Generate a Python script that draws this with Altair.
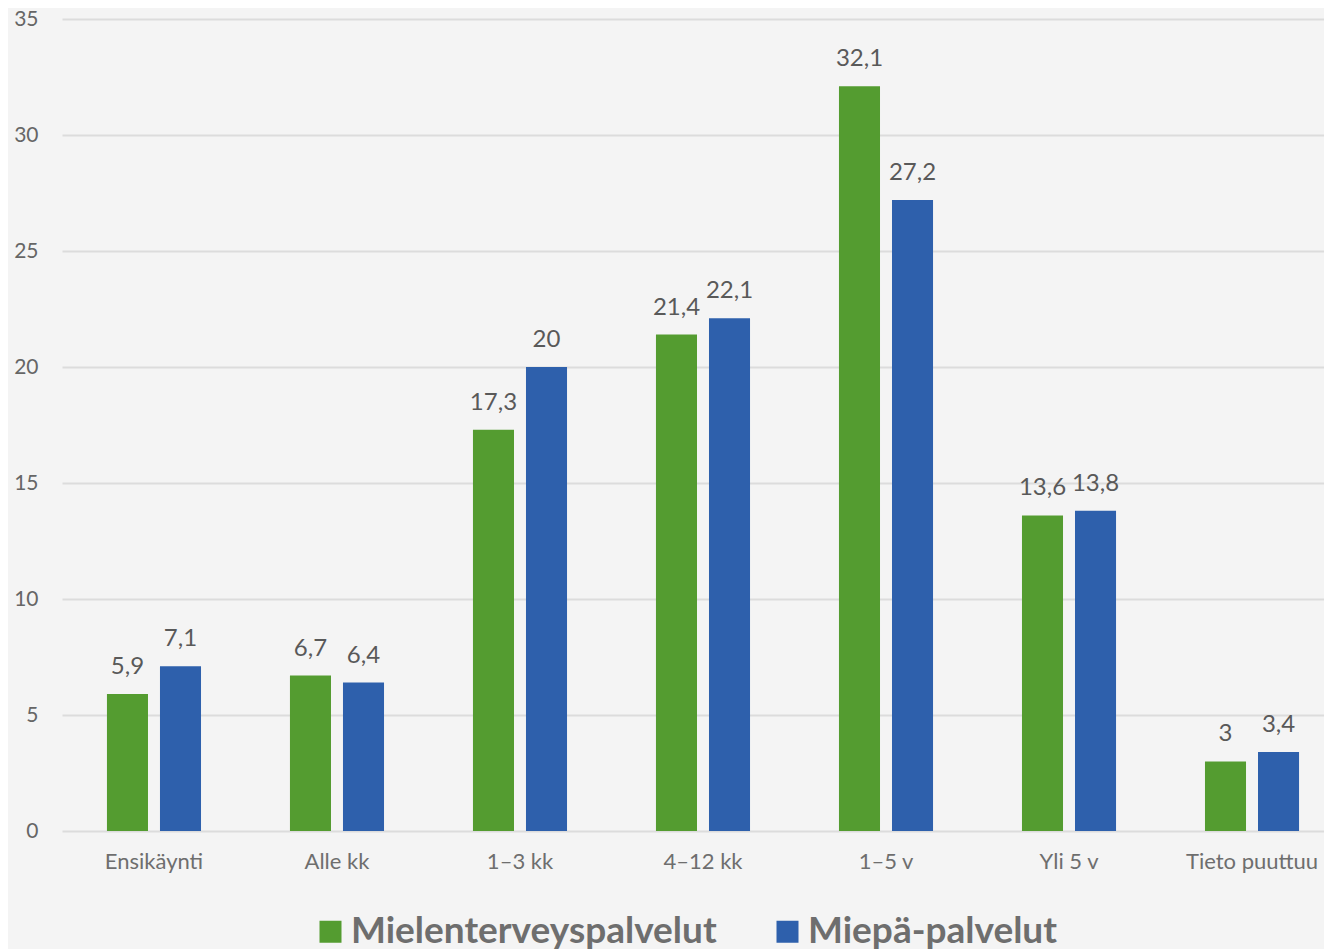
import altair as alt
import pandas as pd

categories = ["Ensikäynti", "Alle kk", "1–3 kk", "4–12 kk", "1–5 v", "Yli 5 v", "Tieto puuttuu"]
series = ["Mielenterveyspalvelut", "Miepä-palvelut"]
mielenterveys = [5.9, 6.7, 17.3, 21.4, 32.1, 13.6, 3]
miepa = [7.1, 6.4, 20, 22.1, 27.2, 13.8, 3.4]
colors = ["#549c30", "#2e60ac"]

rows = []
for c, a, b in zip(categories, mielenterveys, miepa):
    rows.append({"cat": c, "series": series[0], "value": a})
    rows.append({"cat": c, "series": series[1], "value": b})
df = pd.DataFrame(rows)

FONT = "Lato"

x = alt.X("cat:N", sort=categories, title=None,
          scale=alt.Scale(paddingInner=0.486, paddingOuter=0.191, align=0.643),
          axis=alt.Axis(labelAngle=0, domain=False, ticks=False, labelPadding=20,
                        labelFontSize=22, labelColor="#6e6e6e", labelFont=FONT))
xo = alt.XOffset("series:N", sort=series,
                 scale=alt.Scale(paddingInner=0.226, paddingOuter=0))
y = alt.Y("value:Q", title=None,
          scale=alt.Scale(domain=[0, 35], nice=False),
          axis=alt.Axis(values=[0, 5, 10, 15, 20, 25, 30, 35], domain=False, ticks=False,
                        labelPadding=24, labelFontSize=21, labelColor="#666666",
                        labelFont=FONT, gridColor="#dcdcdc", gridWidth=2))

base = alt.Chart(df).encode(x=x, xOffset=xo)

bars = base.mark_bar().encode(
    y=y,
    color=alt.Color("series:N", sort=series,
                    scale=alt.Scale(domain=series, range=colors),
                    legend=alt.Legend(title=None, orient="none", legendX=250, legendY=894,
                                      direction="horizontal", symbolType="square",
                                      symbolSize=484, symbolStrokeWidth=0,
                                      labelFontSize=37, labelFontWeight="bold",
                                      labelColor="#6e6e6e", labelFont=FONT,
                                      labelOffset=2, columnPadding=52, padding=0,
                                      labelLimit=1000)),
)

labels = base.mark_text(baseline="alphabetic", dy=-20, fontSize=24,
                        color="#595959", font=FONT).encode(
    y=alt.Y("value:Q"),
    text=alt.Text("label:N"),
).transform_calculate(label="replace(toString(datum.value), '.', ',')")

chart = alt.layer(bars, labels).properties(
    width=1262, height=812,
    autosize=alt.AutoSizeParams(type="none"),
    padding={"left": 54, "top": 11, "right": 0, "bottom": 125},
    background="#f4f4f4",
).configure_view(stroke=None)

chart.save("out.html", embed_options={"renderer": "svg", "actions": False})
